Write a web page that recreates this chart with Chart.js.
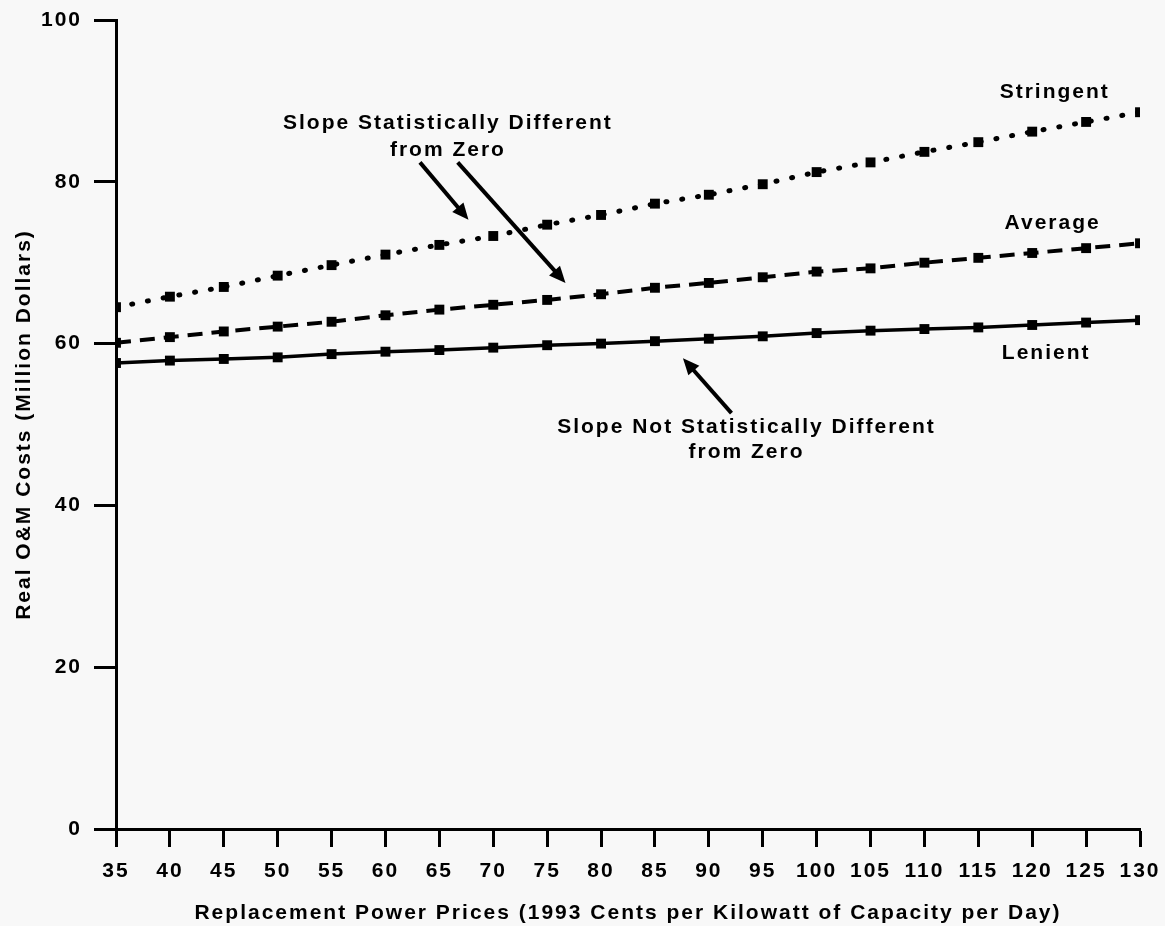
<!DOCTYPE html>
<html>
<head>
<meta charset="utf-8">
<script src="https://cdn.jsdelivr.net/npm/chart.js@4"></script>
<style>
  html, body { margin: 0; padding: 0; background: #f8f8f8; }
  #wrap { width: 1165px; height: 926px; }
</style>
</head>
<body>
<div id="wrap"><canvas id="myChart" width="1165" height="926"></canvas></div>
<script>
// Replacement power prices (1993 cents per kW of capacity per day)
const prices = [35, 40, 45, 50, 55, 60, 65, 70, 75, 80, 85, 90, 95, 100, 105, 110, 115, 120, 125, 130];

// Real O&M costs (million dollars)
const stringent = [64.5, 65.8, 67.0, 68.4, 69.7, 71.0, 72.2, 73.3, 74.7, 75.9, 77.3, 78.4, 79.7, 81.2, 82.4, 83.7, 84.9, 86.2, 87.4, 88.6];
const average = [60.1, 60.8, 61.5, 62.1, 62.7, 63.5, 64.2, 64.8, 65.4, 66.1, 66.9, 67.5, 68.2, 68.9, 69.3, 70.0, 70.6, 71.2, 71.8, 72.4];
const lenient = [57.6, 57.9, 58.1, 58.3, 58.7, 59.0, 59.2, 59.5, 59.8, 60.0, 60.3, 60.6, 60.9, 61.3, 61.6, 61.8, 62.0, 62.3, 62.6, 62.9];

const yTicks = [0, 20, 40, 60, 80, 100];

const FONT = "'Liberation Sans', Arial, sans-serif";
const INK = '#000';
const SPACING = '2px';

// Labels and arrows, placed in data units
const notes = [
    { text: 'Stringent', x: 122.0, y: 91.1 },
    { text: 'Average', x: 121.8, y: 74.9 },
    { text: 'Lenient', x: 121.2, y: 58.8 },
    { text: 'Slope Statistically Different', x: 65.7, y: 87.3 },
    { text: 'from Zero', x: 65.7, y: 83.9 },
    { text: 'Slope Not Statistically Different', x: 93.4, y: 49.7 },
    { text: 'from Zero', x: 93.4, y: 46.6 }
];
const arrows = [
    { from: [63.2, 82.4], to: [67.7, 75.3] },
    { from: [66.7, 82.4], to: [76.7, 67.5] },
    { from: [92.1, 51.4], to: [87.6, 58.2] }
];

const annotationPlugin = {
    id: 'notes',
    afterDatasetsDraw(chart) {
        const ctx = chart.ctx;
        const xs = chart.scales.x;
        const ys = chart.scales.y;
        ctx.save();
        ctx.fillStyle = INK;
        ctx.strokeStyle = INK;
        ctx.font = 'bold 21px ' + FONT;
        ctx.letterSpacing = SPACING;
        ctx.textAlign = 'center';
        ctx.textBaseline = 'middle';
        notes.forEach(n => {
            ctx.fillText(n.text, xs.getPixelForValue(n.x) + 1, ys.getPixelForValue(n.y));
        });

        arrows.forEach(a => {
            const x1 = xs.getPixelForValue(a.from[0]);
            const y1 = ys.getPixelForValue(a.from[1]);
            const x2 = xs.getPixelForValue(a.to[0]);
            const y2 = ys.getPixelForValue(a.to[1]);
            const ang = Math.atan2(y2 - y1, x2 - x1);
            const head = 18;
            const bx = x2 - head * 0.8 * Math.cos(ang);
            const by = y2 - head * 0.8 * Math.sin(ang);
            ctx.lineWidth = 4;
            ctx.beginPath();
            ctx.moveTo(x1, y1);
            ctx.lineTo(bx, by);
            ctx.stroke();
            ctx.beginPath();
            ctx.moveTo(x2, y2);
            ctx.lineTo(x2 - head * Math.cos(ang - 0.42), y2 - head * Math.sin(ang - 0.42));
            ctx.lineTo(x2 - head * Math.cos(ang + 0.42), y2 - head * Math.sin(ang + 0.42));
            ctx.closePath();
            ctx.fill();
        });
        ctx.restore();
    }
};

const bgPlugin = {
    id: 'bg',
    beforeDraw(chart) {
        const ctx = chart.ctx;
        ctx.fillStyle = '#f8f8f8';
        ctx.fillRect(0, 0, chart.width, chart.height);
        // wide letter spacing like the original typesetting
        ctx.letterSpacing = SPACING;
    }
};

function series(label, values, dash, width, cap) {
    return {
        label: label,
        data: values,
        borderColor: INK,
        backgroundColor: INK,
        borderWidth: width,
        borderDash: dash,
        borderCapStyle: cap,
        pointStyle: 'rect',
        pointRadius: 7,
        pointBorderWidth: 0,
        pointBackgroundColor: INK,
        tension: 0,
        fill: false
    };
}

Chart.defaults.font.family = FONT;
Chart.defaults.font.weight = 'bold';
Chart.defaults.color = INK;

const ctx = document.getElementById('myChart').getContext('2d');
new Chart(ctx, {
    type: 'line',
    data: {
        labels: prices,
        datasets: [
            series('Stringent', stringent, [1, 15], 5, 'round'),
            series('Average', average, [15, 9], 4, 'butt'),
            series('Lenient', lenient, [], 3.5, 'butt')
        ]
    },
    options: {
        responsive: false,
        animation: false,
        layout: { padding: { left: 0, right: 25, top: 20, bottom: 0 } },
        plugins: {
            legend: { display: false },
            tooltip: { enabled: false }
        },
        scales: {
            x: {
                type: 'linear',
                min: 35,
                max: 130,
                afterFit: s => { s.height = 97; s.paddingLeft = 0; s.paddingRight = 0; },
                afterBuildTicks: s => { s.ticks = prices.map(v => ({ value: v })); },
                grid: { drawOnChartArea: false, drawTicks: true, tickLength: 18, tickWidth: 3, tickColor: INK },
                border: { display: true, width: 3, color: INK },
                ticks: { autoSkip: false, maxRotation: 0, padding: 12, font: { size: 21, weight: 'bold' }, color: INK },
                title: {
                    display: true,
                    text: 'Replacement Power Prices (1993 Cents per Kilowatt of Capacity per Day)',
                    font: { size: 21, weight: 'bold' },
                    color: INK,
                    padding: { top: 0, bottom: 0 }
                }
            },
            y: {
                min: 0,
                max: 100,
                afterFit: s => { s.width = 116; s.paddingTop = 0; s.paddingBottom = 0; },
                afterBuildTicks: s => { s.ticks = yTicks.map(v => ({ value: v })); },
                grid: { drawOnChartArea: false, drawTicks: true, tickLength: 22, tickWidth: 3, tickColor: INK },
                border: { display: true, width: 3, color: INK },
                ticks: { padding: 12, font: { size: 21, weight: 'bold' }, color: INK },
                title: {
                    display: true,
                    text: 'Real O&M Costs (Million Dollars)',
                    font: { size: 21, weight: 'bold' },
                    color: INK,
                    padding: { top: 12, bottom: 0 }
                }
            }
        }
    },
    plugins: [bgPlugin, annotationPlugin]
});
</script>
</body>
</html>
